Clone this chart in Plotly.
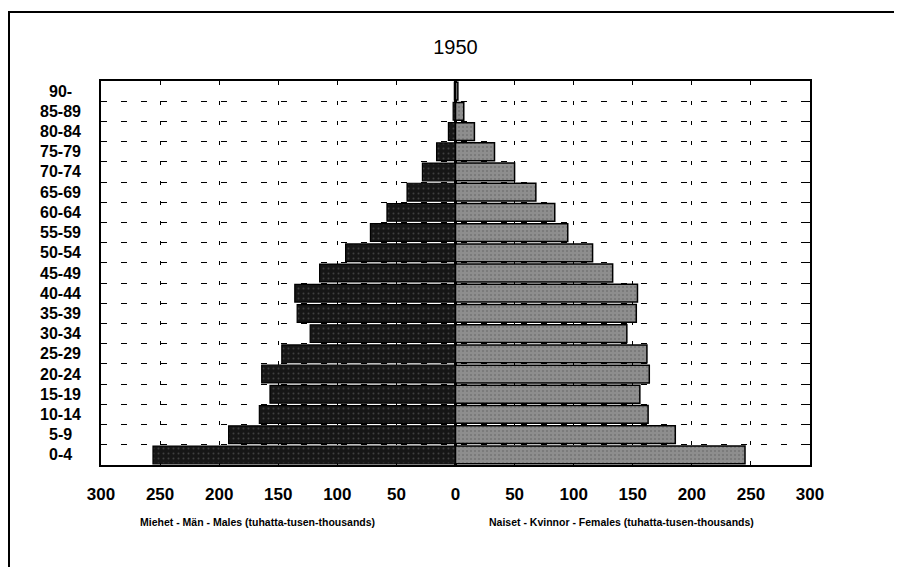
import plotly.graph_objects as go

age_groups = ["0-4", "5-9", "10-14", "15-19", "20-24", "25-29", "30-34", "35-39",
              "40-44", "45-49", "50-54", "55-59", "60-64", "65-69", "70-74",
              "75-79", "80-84", "85-89", "90-"]
males = [256, 192, 166, 157, 164, 147, 123, 134, 136, 115, 93, 72, 58, 41, 28, 16, 6, 2, 1]
females = [245, 186, 163, 156, 164, 162, 145, 153, 154, 133, 116, 95, 84, 68, 50, 33, 16, 7, 2]
x_ticks = [-300, -250, -200, -150, -100, -50, 0, 50, 100, 150, 200, 250, 300]
x_tick_labels = [str(abs(v)) for v in x_ticks]
title_text = "1950"
male_label = "Miehet - Män - Males (tuhatta-tusen-thousands)"
female_label = "Naiset - Kvinnor - Females (tuhatta-tusen-thousands)"

# page body has an 8px margin; work in page pixels and subtract it
OFF = 8
W, H = 902 - OFF, 567 - OFF
L, R, T, B = 101 - OFF, 810 - OFF, 81 - OFF, 465 - OFF
pw, ph = R - L, B - T

def px_x(p):
    return (p - OFF - L) / pw

def px_y(p):
    return (B - (p - OFF)) / ph

fig = go.Figure()
fig.add_trace(go.Bar(
    y=age_groups, x=[-v for v in males], orientation="h", name="Males",
    marker=dict(color="#161616", line=dict(color="black", width=1.2),
                pattern=dict(shape=".", fgcolor="#6a6a6a", size=5, solidity=0.12)),
    hoverinfo="skip",
))
fig.add_trace(go.Bar(
    y=age_groups, x=females, orientation="h", name="Females",
    marker=dict(color="#8e8e8e", line=dict(color="black", width=1.5),
                pattern=dict(shape=".", fgcolor="#5a5a5a", size=4, solidity=0.2)),
    hoverinfo="skip",
))

font_main = "Liberation Sans, Arial, sans-serif"

annotations = []
for g in age_groups:
    annotations.append(dict(
        x=px_x(60), xref="paper", y=g, yref="y", text=g, showarrow=False,
        xanchor="center", yanchor="middle",
        font=dict(family=font_main, size=16, color="black", weight="bold"),
    ))
annotations.append(dict(x=px_x(257), xref="paper", y=px_y(522), yref="paper",
                        text=male_label, showarrow=False, xanchor="center", yanchor="middle",
                        font=dict(family=font_main, size=10.5, color="black", weight="bold")))
annotations.append(dict(x=px_x(621), xref="paper", y=px_y(522), yref="paper",
                        text=female_label, showarrow=False, xanchor="center", yanchor="middle",
                        font=dict(family=font_main, size=10.5, color="black", weight="bold")))

shapes = [
    dict(type="line", xref="paper", yref="paper", x0=px_x(8), x1=px_x(902),
         y0=px_y(12), y1=px_y(12), line=dict(color="black", width=2)),
    dict(type="line", xref="paper", yref="paper", x0=px_x(9), x1=px_x(9),
         y0=px_y(12), y1=px_y(567), line=dict(color="black", width=2)),
]

fig.update_layout(
    width=W, height=H,
    margin=dict(l=L, r=W - R, t=T, b=H - B, pad=0),
    paper_bgcolor="white", plot_bgcolor="white",
    barmode="overlay", bargap=0.12, showlegend=False,
    title=dict(text=title_text, x=0.5, xref="paper", xanchor="center",
               y=1 - (47 - OFF) / H, yref="container", yanchor="middle",
               font=dict(family=font_main, size=20, color="black")),
    annotations=annotations, shapes=shapes,
)
fig.update_xaxes(
    range=[-300, 300], tickvals=x_ticks, ticktext=x_tick_labels,
    tickfont=dict(family=font_main, size=17, color="black", weight="bold"),
    ticks="", ticklabelstandoff=13,
    showgrid=True, gridcolor="black", gridwidth=1, griddash="4px,16px",
    zeroline=True, zerolinecolor="black", zerolinewidth=3,
    showline=True, linecolor="black", linewidth=2, mirror=True,
)
fig.update_yaxes(
    type="category", categoryorder="array", categoryarray=age_groups,
    range=[-0.5, len(age_groups) - 0.5],
    showticklabels=False, tickson="boundaries",
    ticks="inside", ticklen=4, tickcolor="black",
    showgrid=True, gridcolor="black", gridwidth=1, griddash="6px,14px",
    showline=True, linecolor="black", linewidth=2, mirror="ticks",
)

fig.write_html("out.html")
